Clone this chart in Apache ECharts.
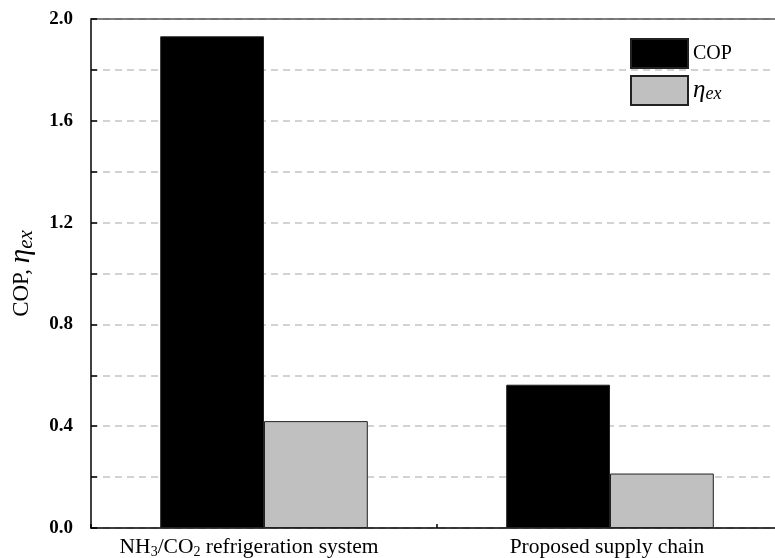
<!DOCTYPE html>
<html>
<head>
<meta charset="utf-8">
<script src="https://cdn.jsdelivr.net/npm/echarts@6/dist/echarts.min.js"></script>
<style>
  html, body { margin: 0; padding: 0; background: #fff; }
  #chart { width: 775px; height: 558px; }
</style>
</head>
<body>
<div id="chart"></div>
<script>
// Categories (rich-text keys give the chemical subscripts)
const categories = ['NH3/CO2 refrigeration system', 'Proposed supply chain'];
const categoryLabels = [
  'NH{sub|3}/CO{sub|2} refrigeration system',
  'Proposed supply chain'
];
const copValues = [1.932, 0.563];
const etaExValues = [0.420, 0.214];
const yTicks = [0.0, 0.4, 0.8, 1.2, 1.6, 2.0];

const serif = '"Liberation Serif", "Times New Roman", serif';

// category entries; the first label sits a little left of its band centre
const categoryData = categories.map(function (c, i) {
  return i === 0
    ? { value: c, textStyle: { padding: [0, 30, 0, 0] } }
    : { value: c, textStyle: { padding: [0, 6, 0, 0] } };
});

const chart = echarts.init(document.getElementById('chart'));

chart.setOption({
  backgroundColor: '#ffffff',
  animation: false,
  grid: {
    left: 91, top: 19, width: 692, height: 509,
    containLabel: false,
    outerBoundsMode: 'none'
  },
  legend: {
    orient: 'vertical',
    left: 625,
    top: 33,
    icon: 'rect',
    itemWidth: 57,
    itemHeight: 29,
    itemGap: 6,
    data: ['COP', 'eta'],
    formatter: function (name) {
      return name === 'COP' ? '{t|COP}' : '{i|η}{s|ex}';
    },
    textStyle: {
      fontFamily: serif,
      color: '#000',
      rich: {
        t: { fontFamily: serif, fontSize: 20, color: '#000' },
        i: { fontFamily: serif, fontSize: 25, fontStyle: 'italic', color: '#000' },
        s: { fontFamily: serif, fontSize: 18, fontStyle: 'italic', color: '#000', padding: [8, 0, 0, 0] }
      }
    }
  },
  xAxis: [
    {
      type: 'category',
      data: categoryData,
      position: 'bottom',
      axisLine: { lineStyle: { color: '#000', width: 1.5 } },
      axisTick: { show: true, inside: true, length: 4, lineStyle: { color: '#000', width: 1.5 } },
      axisLabel: {
        interval: 0,
        hideOverlap: false,
        margin: 8,
        color: '#000',
        fontFamily: serif,
        fontSize: 21.5,
        formatter: function (v, i) { return categoryLabels[i]; },
        rich: {
          sub: { fontFamily: serif, fontSize: 14, color: '#000', padding: [9, 0, 0, 0] }
        }
      },
      splitLine: { show: false }
    },
    {
      type: 'category',
      data: categories,
      position: 'top',
      axisLine: { show: true, lineStyle: { color: '#555', width: 1.5 } },
      axisTick: { show: false },
      axisLabel: { show: false },
      splitLine: { show: false }
    }
  ],
  yAxis: {
    type: 'value',
    min: 0,
    max: 2.0,
    interval: 0.2,
    name: '{a|COP, }{i|η}{s|ex}',
    nameLocation: 'middle',
    nameRotate: 90,
    nameGap: 54,
    nameMoveOverlap: false,
    nameTextStyle: {
      rich: {
        a: { fontFamily: serif, fontSize: 23, color: '#000' },
        i: { fontFamily: serif, fontSize: 29, fontStyle: 'italic', color: '#000' },
        s: { fontFamily: serif, fontSize: 21, fontStyle: 'italic', color: '#000', padding: [10, 0, 0, 0] }
      }
    },
    axisLine: { show: true, lineStyle: { color: '#000', width: 1.5 } },
    axisTick: { show: true, inside: true, length: 6, lineStyle: { color: '#000', width: 1.5 } },
    axisLabel: {
      margin: 18,
      color: '#000',
      fontFamily: serif,
      fontWeight: 'bold',
      fontSize: 19,
      formatter: function (v) {
        const hit = yTicks.some(t => Math.abs(t - v) < 1e-6);
        return hit ? v.toFixed(1) : '';
      }
    },
    splitLine: {
      show: true,
      lineStyle: { color: '#c4c4c4', type: [7, 5], width: 1.5 }
    }
  },
  series: [
    {
      name: 'COP',
      type: 'bar',
      data: copValues,
      barWidth: '30%',
      barGap: '0%',
      itemStyle: { color: '#000000', borderColor: '#222', borderWidth: 1 }
    },
    {
      name: 'eta',
      type: 'bar',
      data: etaExValues,
      barWidth: '30%',
      barGap: '0%',
      itemStyle: { color: '#c0c0c0', borderColor: '#222', borderWidth: 1 }
    }
  ]
});
</script>
</body>
</html>
